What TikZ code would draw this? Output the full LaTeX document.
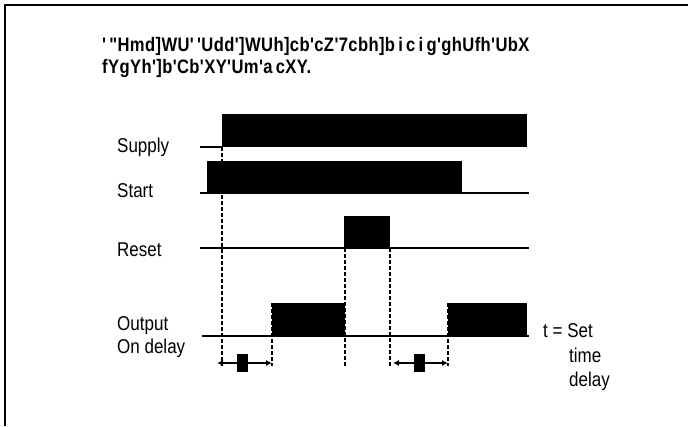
\documentclass[tikz,border=0pt]{standalone}
\usepackage{fontspec}
\setmainfont{Liberation Sans}[FakeStretch=0.85, Ligatures=TeXOff]
\usetikzlibrary{arrows.meta}
\begin{document}
\begin{tikzpicture}[x=1bp,y=-1bp,
  lbl/.style={anchor=base west, inner sep=0pt, font=\fontsize{20bp}{23bp}\selectfont},
  ttl/.style={anchor=base west, inner sep=0pt, font=\fontsize{19.5bp}{22bp}\selectfont\bfseries\addfontfeature{LetterSpace=2}},
  sig/.style={line width=1.2bp},
  blk/.style={fill=black},
  guide/.style={line width=2bp, dash pattern=on 4bp off 2bp},
  dly/.style={line width=1.3bp, {Latex[length=6bp,width=6bp]}-{Latex[length=6bp,width=6bp]}},
  tbox/.style={fill=black},
]
\useasboundingbox (0,0) rectangle (688,426);
% frame
\draw[line width=2bp] (4.5,426) -- (4.5,5) -- (688,5);

% title
\node[ttl] (title1) at (102,51) {'\,"Hmd]WU'\,'Udd']WUh]cb'cZ'7cbh]b\,i\,c\,i\,g'ghUfh'UbX};
\node[ttl] (title2) at (102,73) {fYgYh']b'Cb'XY'Um'a\,cXY.};

% labels
\node[lbl] (supply) at (117,152) {Supply};
\node[lbl] (start) at (117,197) {Start};
\node[lbl] (reset) at (117,256) {Reset};
\node[lbl] (output) at (117,330) {Output};
\node[lbl] (ondelay) at (117,353) {On delay};
\node[lbl] (tset) at (543,337) {t = Set};
\node[lbl] (ttime) at (569,362) {time};
\node[lbl] (tdelay) at (569,386) {delay};

% Supply
\draw[sig] (200,147) -- (222,147);
\fill[blk] (222,113.5) rectangle (527,147);
% Start
\draw[sig] (200,193) -- (207,193);
\fill[blk] (207,161) rectangle (462,193.5);
\draw[sig] (462,193) -- (529,193);
% Reset
\draw[sig] (200,248) -- (529,248);
\fill[blk] (344,216) rectangle (390,248.5);
% Output
\draw[sig] (202,336) -- (529,336);
\fill[blk] (272,303) rectangle (345,336.5);
\fill[blk] (448,303) rectangle (527,336.5);

% guides
\draw[guide] (222,147) -- (222,366);
\draw[guide] (272,303) -- (272,366);
\draw[guide] (344.5,248) -- (344.5,366);
\draw[guide] (389.5,248) -- (389.5,366);
\draw[guide] (448,303) -- (448,366);

% delay arrows
\coordinate (a1l) at (217,363);
\coordinate (a1r) at (272,363);
\coordinate (a2l) at (393,363);
\coordinate (a2r) at (448,363);
\draw[dly] (a1l) -- (a1r);
\draw[dly] (a2l) -- (a2r);
\fill[tbox] (237,354) rectangle (248,372);
\fill[tbox] (414,354) rectangle (425,372);
\end{tikzpicture}
\end{document}
